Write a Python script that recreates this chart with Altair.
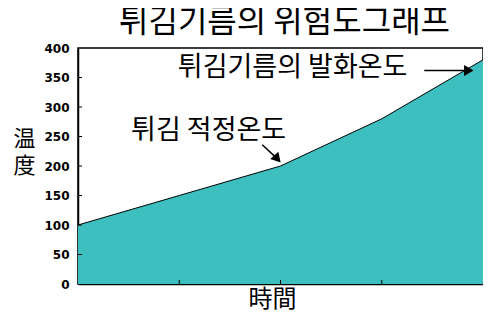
import altair as alt
import pandas as pd

# data
time = [0, 1, 2, 3, 4]
temp = [100, 150, 200, 280, 380]

y_ticks = [50, 100, 150, 200, 250, 300, 350]
y_labels = [0, 50, 100, 150, 200, 250, 300, 350, 400]
x_ticks = [1, 2, 3]

ann_text = ["튀김 적정온도", "튀김기름의 발화온도"]
ann_x = [1.29, 2.12]
ann_y = [259, 366]

# arrow segments (start -> end) in data coordinates
arr_x1 = [1.82, 3.42]
arr_y1 = [236, 362]
arr_x2 = [1.97, 3.84]
arr_y2 = [212, 362]
arr_angle = [48, 0]
head_x = [1.97, 3.86]
head_y = [212, 362]

FONT_KR = "Noto Sans CJK KR"
TEAL = "#3cbfbe"
W, H = 405, 236

df = pd.DataFrame({"t": time, "v": temp})
xs = alt.Scale(domain=[0, 4], nice=False, zero=False)
ys = alt.Scale(domain=[0, 400], nice=False)

XAX = alt.Axis(title="時間", labels=False, ticks=False, grid=False,
               domainColor="black", domainWidth=1.5,
               titleFont="Noto Sans CJK JP", titleFontSize=24,
               titleFontWeight="normal", titleAlign="center",
               titleBaseline="top", titleX=194, titleY=3,
               titleColor="black")
YAX = alt.Axis(title=["温", "度"], values=y_labels,
               ticks=False, grid=False, domainColor="black", domainWidth=1.5,
               labelFont="DejaVu Sans", labelFontWeight="bold", labelFontSize=12,
               labelColor="black", labelPadding=9, labelOverlap=False,
               labelFlush=False,
               titleFont="Noto Sans CJK JP", titleFontSize=22,
               titleFontWeight="normal", titleAngle=0, titleAlign="center",
               titleBaseline="top", titleX=-54, titleY=80, titleLineHeight=27,
               titleColor="black")

area = alt.Chart(df).mark_area(
    color=TEAL, opacity=1, line={"color": "black", "strokeWidth": 1}
).encode(
    x=alt.X("t:Q", scale=xs, axis=XAX),
    y=alt.Y("v:Q", scale=ys, axis=YAX),
)

ytk = alt.Chart(pd.DataFrame({"v": y_ticks})).mark_rule(color="black", strokeWidth=1).encode(
    y=alt.Y("v:Q", scale=ys, axis=YAX), x=alt.value(0), x2=alt.value(4)
)
xtk = alt.Chart(pd.DataFrame({"t": x_ticks})).mark_rule(color="black", strokeWidth=1).encode(
    x=alt.X("t:Q", scale=xs, axis=XAX), y=alt.value(H), y2=alt.value(H - 4)
)

ann = alt.Chart(pd.DataFrame({"x": ann_x, "y": ann_y, "s": ann_text})).mark_text(
    font=FONT_KR, fontSize=27, color="black", align="center", baseline="middle"
).encode(x=alt.X("x:Q", scale=xs, axis=XAX), y=alt.Y("y:Q", scale=ys, axis=YAX), text="s:N")

arr = alt.Chart(pd.DataFrame({"x": arr_x1, "y": arr_y1, "x2": arr_x2, "y2": arr_y2})).mark_rule(
    color="black", strokeWidth=1.5
).encode(x=alt.X("x:Q", scale=xs, axis=XAX), y=alt.Y("y:Q", scale=ys, axis=YAX),
         x2="x2:Q", y2="y2:Q")

heads = alt.Chart(pd.DataFrame({"x": head_x, "y": head_y, "a": arr_angle})).mark_point(
    shape="triangle-right", filled=True, color="black", opacity=1, size=120
).encode(x=alt.X("x:Q", scale=xs, axis=XAX), y=alt.Y("y:Q", scale=ys, axis=YAX),
         angle=alt.Angle("a:Q", scale=None))

chart = alt.layer(area, ytk, xtk, ann, arr, heads).properties(
    width=W, height=H,
    title=alt.TitleParams("튀김기름의 위험도그래프", font=FONT_KR, fontSize=32,
                          fontWeight="normal", anchor="middle", offset=3,
                          dx=4, color="black"),
    autosize=alt.AutoSizeParams(type="none"),
    padding={"left": 70, "top": 40, "right": 0, "bottom": 29},
    background="white",
).configure_view(stroke="black", strokeWidth=1.5)

chart.save("out.html", embed_options={"renderer": "svg", "actions": False})
